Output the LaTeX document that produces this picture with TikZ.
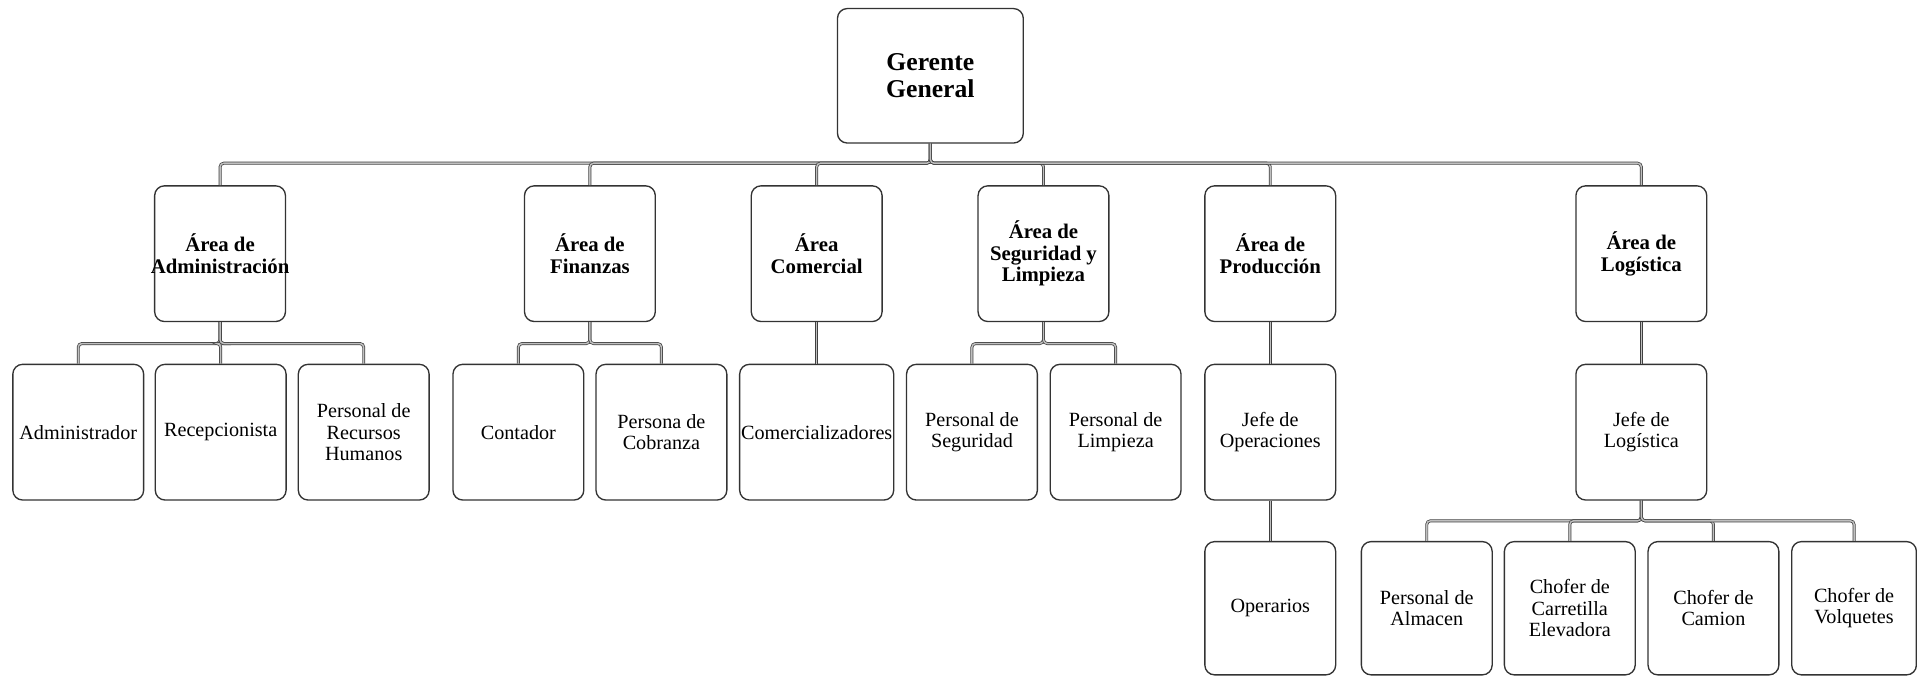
\documentclass[tikz,border=0pt]{standalone}
\usepackage{fontspec}
\setmainfont{Liberation Serif}
\begin{document}
\begin{tikzpicture}[x=1pt,y=-1pt,
  box/.style={draw=black!80, line width=1.1pt, rounded corners=8pt, minimum width=107pt, minimum height=111pt, inner sep=0pt, align=center, font=\fontsize{16.5}{17.5}\selectfont},
  head/.style={box, font=\bfseries\fontsize{17}{17.5}\selectfont},
  lab/.style={inner sep=0pt, align=center, font=\bfseries\fontsize{17}{17.5}\selectfont},
  conn/.style={draw=black!75, line width=0.6pt, double=black!25, double distance=1.2pt, rounded corners=3pt}]
\useasboundingbox (0,0) rectangle (1568,553);
% level 1
\node[box, minimum width=152pt, minimum height=110pt, font=\bfseries\fontsize{21}{22}\selectfont] (ger) at (761,62) {Gerente\\General};
% level 2
\node[head, label={[lab]center:Área de\\Administración}] (adm) at (180,207.5) {};
\node[head] (fin) at (482.5,207.5) {Área de\\Finanzas};
\node[head] (com) at (668,207.5) {Área\\Comercial};
\node[head] (seg) at (853.5,207.5) {Área de\\Seguridad y\\Limpieza};
\node[head] (pro) at (1039,207.5) {Área de\\Producción};
\node[head] (log) at (1342.5,207.5) {Área de\\Logística};
% level 3
\node[box] (a1) at (64,353.5) {Administrador};
\node[box] (a2) at (180.5,353.5) {Recepcionista};
\node[box] (a3) at (297.5,353.5) {Personal de\\Recursos\\Humanos};
\node[box] (f1) at (424,353.5) {Contador};
\node[box] (f2) at (541,353.5) {Persona de\\Cobranza};
\node[box, minimum width=126pt] (c1) at (668,353.5) {Comercializadores};
\node[box] (s1) at (795,353.5) {Personal de\\Seguridad};
\node[box] (s2) at (912.5,353.5) {Personal de\\Limpieza};
\node[box] (p1) at (1039,353.5) {Jefe de\\Operaciones};
\node[box] (l1) at (1342.5,353.5) {Jefe de\\Logística};
% level 4
\node[box, minimum height=109pt] (p2) at (1039,497.5) {Operarios};
\node[box, minimum height=109pt] (l2) at (1167,497.5) {Personal de\\Almacen};
\node[box, minimum height=109pt] (l3) at (1284,497.5) {Chofer de\\Carretilla\\Elevadora};
\node[box, minimum height=109pt] (l4) at (1401.5,497.5) {Chofer de\\Camion};
\node[box, minimum height=109pt, minimum width=102pt] (l5) at (1516.5,497.5) {Chofer de\\Volquetes};
% bus levels
\coordinate (b0) at (0,133.5);
\coordinate (b1) at (0,281);
\coordinate (b2) at (0,426);
% connectors
\foreach \c in {adm,fin,com,seg,pro,log}
  \draw[conn] (ger.south) -- (ger.south |- b0) -| (\c.north);
\foreach \c in {a1,a2,a3}
  \draw[conn] (adm.south) -- (adm.south |- b1) -| (\c.north);
\foreach \c in {f1,f2}
  \draw[conn] (fin.south) -- (fin.south |- b1) -| (\c.north);
\foreach \c in {s1,s2}
  \draw[conn] (seg.south) -- (seg.south |- b1) -| (\c.north);
\draw[conn] (com.south) -- (c1.north);
\draw[conn] (pro.south) -- (p1.north);
\draw[conn] (p1.south) -- (p2.north);
\draw[conn] (log.south) -- (l1.north);
\foreach \c in {l2,l3,l4,l5}
  \draw[conn] (l1.south) -- (l1.south |- b2) -| (\c.north);
\end{tikzpicture}
\end{document}
